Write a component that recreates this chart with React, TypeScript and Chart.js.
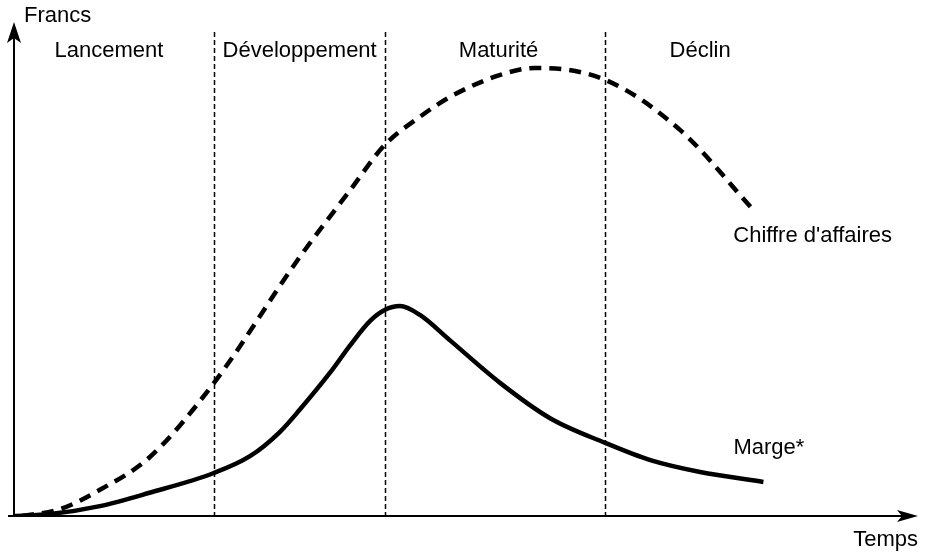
import React, { useEffect, useRef } from "react";
import { Chart, registerables } from "chart.js";

Chart.register(...registerables);

// Time axis in arbitrary units 0..100, value axis 0..100
const caX = [0.9, 5.1, 9.5, 15.0, 22.1, 31.6, 37.2, 41.0, 44.9, 48.2, 53.8, 57.6, 65.4, 73.7, 82.0];
const caY = [0, 1.4, 5.3, 11.9, 26.9, 52.4, 66.0, 75.1, 80.8, 84.8, 89.3, 90.7, 88.3, 78.1, 61.5];

const margeX = [0, 4.0, 9.5, 15.0, 22.1, 26.1, 29.4, 31.6, 35.0, 37.2, 39.4, 41.0, 42.7, 44.9, 48.2, 53.8, 59.3, 65.4, 70.4, 75.9, 82.9];
const margeY = [0, 0.4, 2.0, 4.7, 8.7, 12.1, 17.0, 21.5, 29.1, 34.6, 39.5, 41.7, 42.5, 40.7, 35.6, 26.9, 19.8, 14.8, 11.3, 8.9, 6.9];

const phaseBounds = [22.1, 41.0, 65.4];
const phaseLabels = ["Lancement", "Développement", "Maturité", "Déclin"];
const phaseLabelX = [10.5, 31.6, 53.6, 75.9];

const seriesLabels = ["Chiffre d'affaires", "Marge*"];
const axisLabels = { y: "Francs", x: "Temps" };

const FONT = '22px "Liberation Sans", Arial, sans-serif';

const decorPlugin = {
  id: "decor",
  beforeDatasetsDraw(chart: any) {
    const { ctx, scales } = chart;
    const xs = scales.x;
    const ys = scales.y;
    ctx.save();
    ctx.strokeStyle = "#000";
    ctx.lineWidth = 1.5;
    ctx.setLineDash([5, 3]);
    phaseBounds.forEach((b) => {
      const px = Math.round(xs.getPixelForValue(b)) + 0.5;
      ctx.beginPath();
      ctx.moveTo(px, ys.getPixelForValue(98));
      ctx.lineTo(px, ys.getPixelForValue(0));
      ctx.stroke();
    });
    ctx.setLineDash([]);
    ctx.restore();
  },
  afterDatasetsDraw(chart: any) {
    const { ctx, scales, chartArea } = chart;
    const xs = scales.x;
    const ys = scales.y;
    const x0 = chartArea.left;
    const y0 = ys.getPixelForValue(0);
    ctx.save();
    ctx.strokeStyle = "#000";
    ctx.fillStyle = "#000";
    ctx.lineWidth = 2;
    // y axis
    ctx.beginPath();
    ctx.moveTo(x0, y0 + 1);
    ctx.lineTo(x0, chartArea.top + 12);
    ctx.stroke();
    ctx.beginPath();
    ctx.moveTo(x0, chartArea.top);
    ctx.lineTo(x0 - 7, chartArea.top + 21);
    ctx.lineTo(x0, chartArea.top + 16);
    ctx.lineTo(x0 + 7, chartArea.top + 21);
    ctx.closePath();
    ctx.fill();
    // x axis
    ctx.beginPath();
    ctx.moveTo(x0 - 6, y0);
    ctx.lineTo(chartArea.right - 12, y0);
    ctx.stroke();
    ctx.beginPath();
    ctx.moveTo(chartArea.right, y0);
    ctx.lineTo(chartArea.right - 21, y0 - 6);
    ctx.lineTo(chartArea.right - 16, y0);
    ctx.lineTo(chartArea.right - 21, y0 + 6);
    ctx.closePath();
    ctx.fill();

    // texts
    ctx.font = FONT;
    ctx.textBaseline = "middle";
    ctx.textAlign = "left";
    ctx.fillText(axisLabels.y, x0 + 10, chartArea.top - 6);
    ctx.textAlign = "right";
    ctx.fillText(axisLabels.x, chartArea.right, y0 + 24);
    ctx.textAlign = "center";
    phaseLabels.forEach((t, i) => {
      ctx.fillText(t, xs.getPixelForValue(phaseLabelX[i]), ys.getPixelForValue(100) + 29);
    });
    ctx.textAlign = "left";
    const lastCa = caX.length - 1;
    ctx.fillText(seriesLabels[0], xs.getPixelForValue(caX[lastCa]) - 22, ys.getPixelForValue(caY[lastCa]) + 24);
    const lastM = margeX.length - 1;
    ctx.fillText(seriesLabels[1], xs.getPixelForValue(margeX[lastM]) - 30, ys.getPixelForValue(margeY[lastM]) - 34);
    ctx.restore();
  },
};

export default function App() {
  const ref = useRef<HTMLCanvasElement>(null);
  useEffect(() => {
    document.body.style.margin = "0";
    const canvas = ref.current!;
    const chart = new Chart(canvas, {
      type: "line",
      data: {
        datasets: [
          {
            label: seriesLabels[0],
            data: caX.map((x, i) => ({ x, y: caY[i] })),
            borderColor: "#000",
            borderWidth: 4.5,
            borderDash: [12, 8],
            pointRadius: 0,
            cubicInterpolationMode: "monotone",
            fill: false,
          },
          {
            label: seriesLabels[1],
            data: margeX.map((x, i) => ({ x, y: margeY[i] })),
            borderColor: "#000",
            borderWidth: 4.5,
            pointRadius: 0,
            cubicInterpolationMode: "monotone",
            fill: false,
          },
        ],
      },
      options: {
        animation: false,
        responsive: false,
        maintainAspectRatio: false,
        layout: { padding: { left: 14, right: 7, top: 22, bottom: 40 } },
        plugins: { legend: { display: false }, tooltip: { enabled: false } },
        scales: {
          x: { type: "linear", min: 0, max: 100, display: false },
          y: { type: "linear", min: 0, max: 100, display: false },
        },
      },
      plugins: [decorPlugin],
    });
    return () => chart.destroy();
  }, []);
  return (
    <div style={{ width: 925, height: 556, background: "#fff" }}>
      <canvas ref={ref} width={925} height={556} style={{ display: "block" }} />
    </div>
  );
}
